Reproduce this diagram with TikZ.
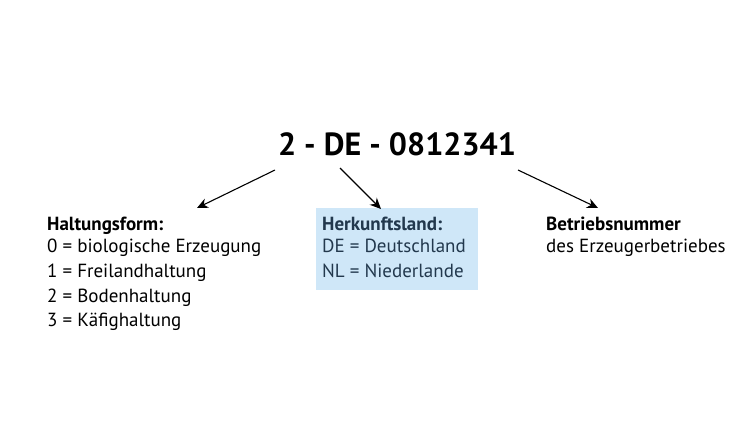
\documentclass[tikz,border=0pt]{standalone}
\usepackage{fontspec}
\setmainfont{PT Sans}
\usetikzlibrary{arrows.meta}
\definecolor{boxblue}{HTML}{CFE7F8}
\definecolor{boxtext}{HTML}{22384D}
\begin{document}
\begin{tikzpicture}[x=1pt,y=-1pt,
  lbl/.style={anchor=base west,inner sep=0pt,font=\fontsize{19}{24}\selectfont},
  arr/.style={-{Stealth[length=11pt,width=10pt]},line width=1.1pt}]
\useasboundingbox (0,0) rectangle (750,422);
\node[inner sep=0pt,font=\fontsize{32}{34}\selectfont\bfseries,anchor=base] (t) at (397,156) {2 - DE - 0812341};
\fill[boxblue] (316,208) rectangle (478,290);
\node[lbl,font=\fontsize{19}{24}\selectfont\bfseries] (h) at (47,231) {Haltungsform:};
\node[lbl] (h0) at (47,253) {0 = biologische Erzeugung};
\node[lbl] (h1) at (47,277) {1 = Freilandhaltung};
\node[lbl] (h2) at (47,302) {2 = Bodenhaltung};
\node[lbl] (h3) at (47,326) {3 = Käfighaltung};
\node[lbl,text=boxtext,font=\fontsize{19}{24}\selectfont\bfseries] (k) at (322,231) {Herkunftsland:};
\node[lbl,text=boxtext] (k1) at (322,253) {DE = Deutschland};
\node[lbl,text=boxtext] (k2) at (322,277) {NL = Niederlande};
\node[lbl,font=\fontsize{19}{24}\selectfont\bfseries] (b) at (546,231) {Betriebsnummer};
\node[lbl] (b1) at (546,253) {des Erzeugerbetriebes};
\coordinate (a1s) at (275,170); \coordinate (a1e) at (197,208);
\coordinate (a2s) at (340,168); \coordinate (a2e) at (381,209);
\coordinate (a3s) at (518,170); \coordinate (a3e) at (598,208);
\draw[arr] (a1s) -- (a1e);
\draw[arr] (a2s) -- (a2e);
\draw[arr] (a3s) -- (a3e);
\end{tikzpicture}
\end{document}
